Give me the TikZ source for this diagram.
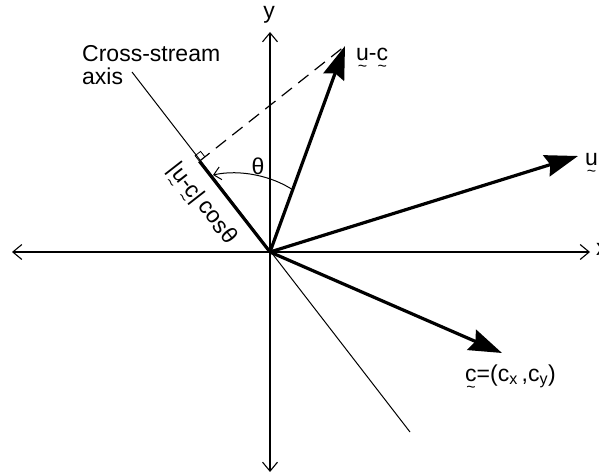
\documentclass[tikz,border=0pt]{standalone}
\usepackage{fontspec}
\setmainfont{Liberation Sans}
\usetikzlibrary{arrows.meta}
\newcommand\tvec[1]{\leavevmode\setbox0\hbox{#1}\rlap{\copy0}\hbox to\wd0{\hss\raisebox{-11pt}{\fontsize{16}{16}\selectfont\char"7E}\hss}}
\tikzset{
  lbl/.style={inner sep=0pt, font=\fontsize{23}{25}\selectfont},
  axis/.style={line width=1.1pt, {Straight Barb[length=9pt,width=15pt,line width=1.1pt]}-{Straight Barb[length=9pt,width=15pt,line width=1.1pt]}},
  vec/.style={line width=3.2pt, -{Stealth[length=33pt,width=22pt,inset=4pt]}},
  thin/.style={line width=1pt},
}
\begin{document}
\begin{tikzpicture}[x=1pt,y=-1pt]
\useasboundingbox (0,0) rectangle (599,473);
\coordinate (O) at (270,252);
\coordinate (L) at (12,252);
\coordinate (R) at (590,252);
\coordinate (T) at (270,32);
\coordinate (B) at (270,472);
\coordinate (A1) at (132,72);
\coordinate (A2) at (410,432);
\coordinate (F) at (199.4,161.2);
\coordinate (UC) at (345,46);
\coordinate (U) at (578,156);
\coordinate (C) at (502,353);
% axes
\draw[axis] (L) -- (R);
\draw[axis] (B) -- (T);
\node[lbl, anchor=west] (xl) at (596,249) {x};
\node[lbl, anchor=center] (yl) at (269,15) {y};
% cross-stream axis
\draw[thin] (A1) -- (A2);
\draw[line width=3.2pt] (O) -- (F);
\node[lbl, anchor=north west, align=left] (cs) at (82,45) {Cross-stream\\[-2pt]axis};
% dashed projection
\draw[line width=1.2pt, dash pattern=on 13pt off 8pt] (F) -- (UC);
\draw[line width=0.8pt] (F) -- ++(-4.3,-5.5) -- ++(5.5,-4.3) -- ++(4.3,5.5);
% vectors
\draw[vec] (O) -- (UC);
\draw[vec] (O) -- (U);
\draw[vec] (O) -- (C);
\node[lbl, anchor=base west] (uc) at (356,61) {\tvec{u}-\tvec{c}};
\node[lbl, anchor=base west] (ul) at (585,165) {\tvec{u}};
\node[lbl, anchor=base west] (cl) at (465,381) {\tvec{c}=(c\textsubscript{x}\,,c\textsubscript{y})};
% theta arc
\coordinate (Th0) at (293,190);
\coordinate (Th1) at (213,175);
\draw[line width=1pt, -{Straight Barb[length=7pt,width=13pt,line width=1pt]}] (Th0) .. controls (272,176) and (240,169) .. (Th1);
\node[lbl] (th) at (258,166) {θ};
% projection label
\node[lbl, rotate=-52] (pl) at (199.5,205.5) {|\tvec{u}-\tvec{c}|\,cosθ};
\end{tikzpicture}
\end{document}
